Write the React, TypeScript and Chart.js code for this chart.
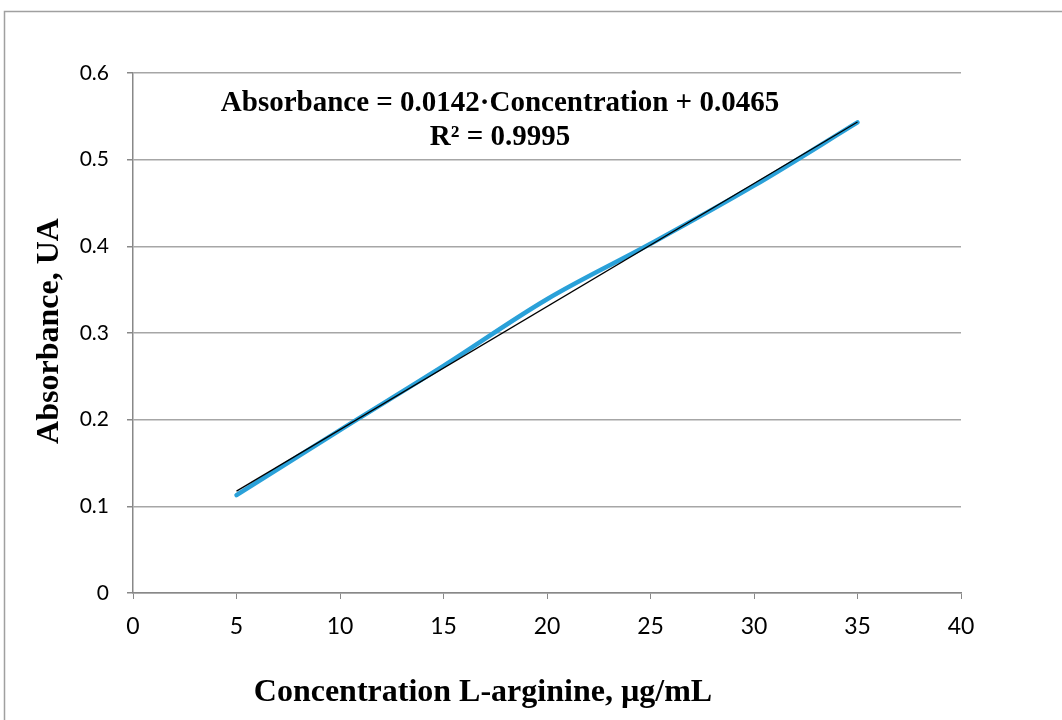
import React, { useEffect, useRef } from "react";
import { Chart, registerables } from "chart.js";

Chart.register(...registerables);

const concentrations = [5, 10, 15, 20, 25, 30, 35];
const absorbance = [0.113, 0.188, 0.262, 0.339, 0.403, 0.47, 0.543];
const trendX = [5, 35];
const trendY = [0.1175, 0.5435];
const equationText = "Absorbance = 0.0142·Concentration + 0.0465";
const r2Text = "R² = 0.9995";
const xTitle = "Concentration L-arginine, µg/mL";
const yTitle = "Absorbance, UA";

const decor = {
  id: "decor",
  beforeDraw(chart: any) {
    const ctx = chart.ctx;
    ctx.save();
    ctx.fillStyle = "#ffffff";
    ctx.fillRect(0, 0, chart.width, chart.height);
    ctx.strokeStyle = "#a0a0a0";
    ctx.lineWidth = 1.5;
    ctx.strokeRect(4.5, 11.5, 1200, 900);
    ctx.restore();
  },
  afterDraw(chart: any) {
    const ctx = chart.ctx;
    ctx.save();
    ctx.fillStyle = "#000";
    ctx.textAlign = "center";
    ctx.textBaseline = "middle";
    ctx.font = "bold 29px 'Liberation Serif'";
    ctx.fillText(equationText, 500, 104);
    ctx.fillText(r2Text, 500, 138);
    ctx.font = "bold 32px 'Liberation Serif'";
    ctx.fillText(xTitle, 483, 693);
    ctx.translate(50, 331);
    ctx.rotate(-Math.PI / 2);
    ctx.fillText(yTitle, 0, 0);
    ctx.restore();
  },
};

export default function App() {
  const ref = useRef<HTMLCanvasElement>(null);
  useEffect(() => {
    const chart = new Chart(ref.current!, {
      type: "scatter",
      data: {
        datasets: [
          {
            label: "Trend",
            data: trendX.map((x, i) => ({ x, y: trendY[i] })),
            showLine: true,
            borderColor: "#000000",
            borderWidth: 1.3,
            pointRadius: 0,
            fill: false,
          },
          {
            label: "Absorbance",
            data: concentrations.map((x, i) => ({ x, y: absorbance[i] })),
            showLine: true,
            borderColor: "#2aa1d9",
            borderWidth: 4.5,
            pointRadius: 0,
            tension: 0.35,
            borderCapStyle: "round",
            fill: false,
          },
        ],
      },
      options: {
        animation: false,
        responsive: false,
        maintainAspectRatio: false,
        layout: { padding: { left: 0, top: 73, right: 101, bottom: 0 } },
        plugins: { legend: { display: false }, tooltip: { enabled: false } },
        scales: {
          x: {
            type: "linear",
            min: 0,
            max: 40,
            afterFit: (s: any) => {
              s.height = 127;
            },
            ticks: {
              stepSize: 5,
              color: "#000",
              padding: 14,
              font: { family: "Lato", size: 23 },
            },
            grid: {
              drawOnChartArea: false,
              drawTicks: true,
              tickLength: 6,
              color: "#888888",
            },
            border: { color: "#888888", width: 1.5 },
          },
          y: {
            type: "linear",
            min: 0,
            max: 0.6,
            afterFit: (s: any) => {
              s.width = 133;
            },
            ticks: {
              stepSize: 0.1,
              color: "#000",
              padding: 18,
              font: { family: "Lato", size: 21 },
            },
            grid: {
              color: "#a6a6a6",
              lineWidth: 1.5,
              tickLength: 6,
              tickColor: "#888888",
            },
            border: { color: "#888888", width: 1.5 },
          },
        },
      },
      plugins: [decor],
    } as any);
    return () => chart.destroy();
  }, []);
  return (
    <div style={{ position: "fixed", left: 0, top: 0, width: 1062, height: 720 }}>
      <canvas ref={ref} width={1062} height={720} style={{ display: "block" }} />
    </div>
  );
}
